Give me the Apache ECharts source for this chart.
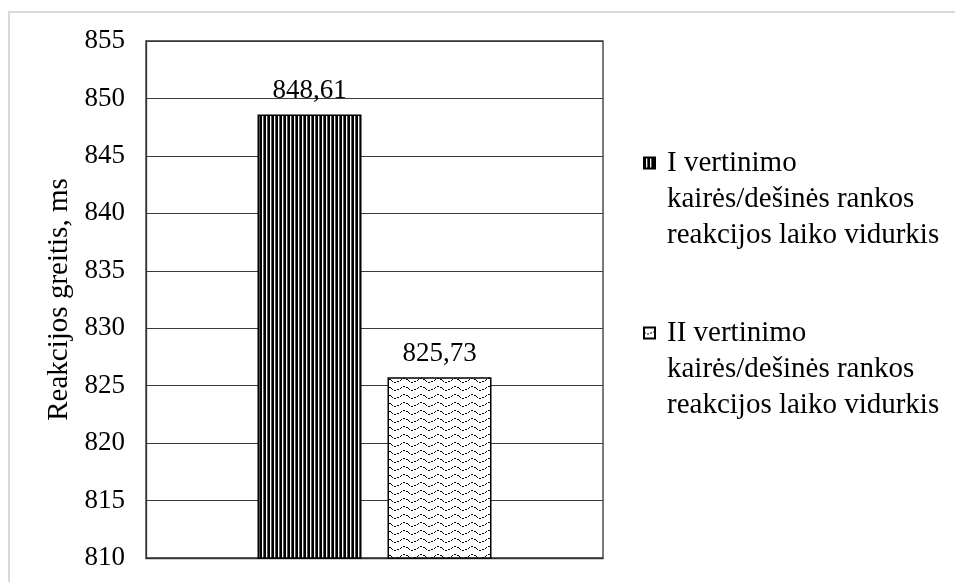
<!DOCTYPE html>
<html>
<head>
<meta charset="utf-8">
<script src="https://cdn.jsdelivr.net/npm/echarts@6/dist/echarts.min.js"></script>
<style>html,body{margin:0;padding:0;background:#fff}#c{width:955px;height:582px}</style>
</head>
<body>
<div id="c"></div>
<script>
const categories = [''];
const seriesNames = [
  'I vertinimo\nkairės/dešinės rankos\nreakcijos laiko vidurkis',
  'II vertinimo\nkairės/dešinės rankos\nreakcijos laiko vidurkis'
];
const seriesI = [848.61];
const seriesII = [825.73];
const yTicks = { min: 810, max: 855, interval: 5 };
const yTitle = 'Reakcijos greitis, ms';

function stripePattern() {
  const c = document.createElement('canvas');
  c.width = 4; c.height = 4;
  const g = c.getContext('2d');
  g.fillStyle = '#fff'; g.fillRect(0, 0, 4, 4);
  g.fillStyle = '#000'; g.fillRect(0, 0, 2, 4);
  g.fillStyle = '#555'; g.fillRect(3, 0, 1, 4);
  return c;
}
function wavePattern() {
  const w = 17, h = 8;
  const c = document.createElement('canvas');
  c.width = w; c.height = h;
  const g = c.getContext('2d');
  g.fillStyle = '#fff'; g.fillRect(0, 0, w, h);
  g.fillStyle = '#000';
  for (let x = 0; x < w; x++) {
    if (x % 3 === 2) continue;
    const y = Math.round(4 + 1.8 * Math.sin(2 * Math.PI * x / w));
    g.fillRect(x, y, 1, 1);
  }
  return c;
}

const FONT = "'Liberation Serif', 'Times New Roman', serif";
const fmt = p => String(p.value.toFixed(2)).replace('.', ',');

const chart = echarts.init(document.getElementById('c'), null, { renderer: 'canvas' });
const legendCommon = {
  orient: 'vertical', left: 643, padding: 0,
  itemWidth: 11, itemHeight: 11, icon: 'rect',
  selectedMode: false,
  formatter: name => '\n\n' + name,
  textStyle: { fontFamily: FONT, fontSize: 29, color: '#000', lineHeight: 36, padding: [0, 0, 0, 7] }
};
chart.setOption({
  animation: false,
  backgroundColor: '#fff',
  textStyle: { fontFamily: FONT },
  graphic: [{
    type: 'rect', silent: true,
    shape: { x: 9, y: 12, width: 1100, height: 1100 },
    style: { fill: 'none', stroke: '#d9d9d9', lineWidth: 2 }
  }],
  grid: { left: 146, top: 41, right: 352, bottom: 24, show: true, borderColor: '#333', borderWidth: 1.3 },
  legend: [
    Object.assign({}, legendCommon, { top: 73, data: [seriesNames[0]] }),
    Object.assign({}, legendCommon, { top: 243, data: [seriesNames[1]] })
  ],
  xAxis: {
    type: 'category', data: categories,
    axisLine: { lineStyle: { color: '#333', width: 1.3 } },
    axisTick: { show: false }, axisLabel: { show: false }
  },
  yAxis: {
    type: 'value', min: yTicks.min, max: yTicks.max, interval: yTicks.interval,
    name: yTitle, nameLocation: 'middle', nameGap: 72, nameRotate: 90,
    nameTextStyle: { fontFamily: FONT, fontSize: 29, color: '#000' },
    axisLine: { show: true, lineStyle: { color: '#333', width: 1.3 } },
    axisTick: { show: false },
    axisLabel: { fontFamily: FONT, fontSize: 27, color: '#000', margin: 21 },
    splitLine: { lineStyle: { color: '#3a3a3a', width: 1 } }
  },
  series: [
    {
      name: seriesNames[0], type: 'bar', data: seriesI, barWidth: 104, barGap: '25%',
      itemStyle: { color: { image: stripePattern(), repeat: 'repeat' }, borderColor: '#000', borderWidth: 1.5 },
      label: { show: true, position: 'top', distance: 10, formatter: fmt, fontFamily: FONT, fontSize: 27, color: '#000' }
    },
    {
      name: seriesNames[1], type: 'bar', data: seriesII, barWidth: 104,
      itemStyle: { color: { image: wavePattern(), repeat: 'repeat' }, borderColor: '#000', borderWidth: 1.5 },
      label: { show: true, position: 'top', distance: 10, formatter: fmt, fontFamily: FONT, fontSize: 27, color: '#000' }
    }
  ]
});
</script>
</body>
</html>
